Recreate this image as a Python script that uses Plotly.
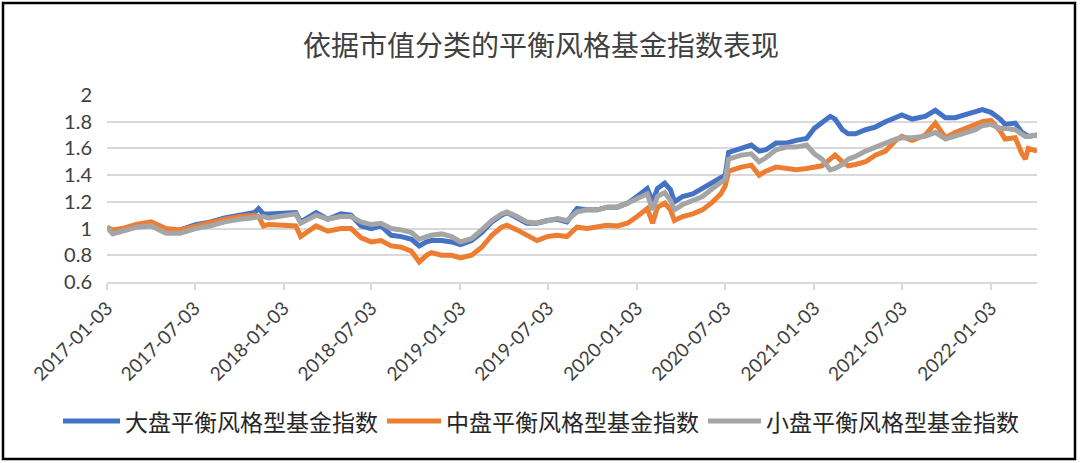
import plotly.graph_objects as go

dates = [
    "2017-01-03", "2017-01-15", "2017-02-03", "2017-03-04", "2017-04-04", "2017-05-05", "2017-06-03",
    "2017-07-05", "2017-08-05", "2017-09-03", "2017-10-04", "2017-11-04", "2017-11-12", "2017-11-22",
    "2017-12-03",
    "2018-01-03", "2018-01-28", "2018-02-07", "2018-03-11", "2018-04-04", "2018-05-01", "2018-05-22",
    "2018-06-12", "2018-07-03", "2018-07-23", "2018-08-13", "2018-09-03", "2018-09-24", "2018-10-10",
    "2018-10-25", "2018-11-04", "2018-11-25", "2018-12-16",
    "2019-01-03", "2019-01-26", "2019-02-16", "2019-03-09", "2019-03-29", "2019-04-09", "2019-04-30",
    "2019-05-20", "2019-06-10", "2019-07-01", "2019-07-22", "2019-08-11", "2019-09-01", "2019-09-22",
    "2019-10-13", "2019-11-02", "2019-11-23", "2019-12-14",
    "2020-01-03", "2020-01-24", "2020-02-04", "2020-02-14", "2020-02-29", "2020-03-12", "2020-03-20",
    "2020-04-06", "2020-04-27", "2020-05-17", "2020-06-07", "2020-06-24", "2020-07-03", "2020-07-10",
    "2020-08-05", "2020-08-26", "2020-09-11", "2020-09-25", "2020-10-16", "2020-11-06", "2020-11-27",
    "2020-12-18",
    "2021-01-03", "2021-01-19", "2021-02-05", "2021-02-15", "2021-03-02", "2021-03-14", "2021-03-29",
    "2021-04-19", "2021-05-09", "2021-05-30", "2021-06-20", "2021-07-03", "2021-07-24", "2021-08-20",
    "2021-09-10", "2021-10-01", "2021-10-21", "2021-11-11", "2021-12-02", "2021-12-16",
    "2022-01-03", "2022-01-22", "2022-02-01", "2022-02-22", "2022-03-08", "2022-03-15", "2022-03-21",
    "2022-04-08",
]

large_cap = [
    1.01, 0.98, 0.99, 1.02, 1.04, 0.98, 0.99, 1.03, 1.05, 1.08, 1.10, 1.12, 1.15, 1.11, 1.11,
    1.12, 1.12, 1.05, 1.12, 1.07, 1.11, 1.10, 1.02, 1.00, 1.02, 0.95, 0.94, 0.92, 0.87, 0.90, 0.91, 0.91, 0.90,
    0.88, 0.91, 0.97, 1.05, 1.10, 1.12, 1.08, 1.04, 1.04, 1.06, 1.07, 1.05, 1.15, 1.14, 1.14, 1.16, 1.16, 1.19,
    1.24, 1.30, 1.20, 1.30, 1.34, 1.29, 1.20, 1.24, 1.26, 1.30, 1.34, 1.375, 1.40, 1.57, 1.60, 1.625, 1.58,
    1.59, 1.64, 1.64, 1.66, 1.675,
    1.75, 1.79, 1.84, 1.82, 1.74, 1.71, 1.71, 1.74, 1.76, 1.80, 1.83, 1.85, 1.82, 1.84, 1.885, 1.83, 1.83,
    1.85, 1.87, 1.89,
    1.87, 1.82, 1.78, 1.79, 1.72, 1.70, 1.69, 1.70,
]

mid_cap = [
    1.01, 0.99, 1.00, 1.03, 1.05, 1.00, 0.99, 1.02, 1.04, 1.07, 1.09, 1.10, 1.09, 1.02, 1.03,
    1.02, 1.02, 0.94, 1.02, 0.98, 1.00, 1.00, 0.93, 0.90, 0.91, 0.87, 0.86, 0.83, 0.75, 0.80, 0.82, 0.80, 0.80,
    0.78, 0.80, 0.86, 0.95, 1.01, 1.025, 0.99, 0.95, 0.91, 0.94, 0.95, 0.94, 1.01, 1.00, 1.01, 1.025, 1.02, 1.04,
    1.09, 1.15, 1.04, 1.16, 1.19, 1.14, 1.06, 1.09, 1.11, 1.14, 1.20, 1.26, 1.32, 1.43, 1.46, 1.475, 1.40,
    1.43, 1.46, 1.45, 1.44, 1.45,
    1.46, 1.47, 1.52, 1.55, 1.50, 1.47, 1.48, 1.50, 1.55, 1.58, 1.66, 1.69, 1.66, 1.70, 1.79, 1.68, 1.72,
    1.75, 1.78, 1.80,
    1.81, 1.73, 1.67, 1.68, 1.56, 1.52, 1.60, 1.58,
]

small_cap = [
    1.01, 0.96, 0.98, 1.01, 1.02, 0.965, 0.965, 1.00, 1.02, 1.05, 1.07, 1.08, 1.09, 1.09, 1.08,
    1.10, 1.11, 1.04, 1.10, 1.07, 1.09, 1.09, 1.05, 1.03, 1.04, 1.00, 0.99, 0.97, 0.92, 0.94, 0.95, 0.96, 0.94,
    0.90, 0.925, 0.99, 1.06, 1.11, 1.125, 1.09, 1.05, 1.04, 1.06, 1.075, 1.06, 1.125, 1.14, 1.14, 1.16, 1.16, 1.19,
    1.225, 1.26, 1.14, 1.24, 1.27, 1.21, 1.14, 1.18, 1.21, 1.24, 1.30, 1.34, 1.37, 1.52, 1.55, 1.56, 1.50,
    1.53, 1.59, 1.61, 1.61, 1.625,
    1.56, 1.52, 1.44, 1.45, 1.48, 1.52, 1.54, 1.58, 1.61, 1.64, 1.67, 1.68, 1.68, 1.69, 1.72, 1.67, 1.69,
    1.71, 1.74, 1.77,
    1.78, 1.75, 1.75, 1.74, 1.71, 1.69, 1.69, 1.70,
]

series_names = ["大盘平衡风格型基金指数", "中盘平衡风格型基金指数", "小盘平衡风格型基金指数"]
series_colors = ["#4472C4", "#ED7D31", "#A5A5A5"]

tick_dates = ["2017-01-03", "2017-07-03", "2018-01-03", "2018-07-03", "2019-01-03", "2019-07-03",
              "2020-01-03", "2020-07-03", "2021-01-03", "2021-07-03", "2022-01-03"]
y_ticks = [0.6, 0.8, 1.0, 1.2, 1.4, 1.6, 1.8, 2.0]
y_tick_text = ["0.6", "0.8", "1", "1.2", "1.4", "1.6", "1.8", "2"]

title_text = "依据市值分类的平衡风格基金指数表现"

fig = go.Figure()
for name, vals, col in zip(series_names, [large_cap, mid_cap, small_cap], series_colors):
    fig.add_trace(go.Scatter(x=dates, y=vals, mode="lines", name=name,
                             line=dict(color=col, width=5), showlegend=False))

W, H = 1080, 463
L, R, T, B = 107, 43, 95, 181
pw, ph = W - L - R, H - T - B

def px_to_paper_x(px):
    return (px - L) / pw

def px_to_paper_y(py):
    return (H - B - py) / ph

cjk = "Noto Sans CJK SC"

# manual legend (bottom row), sample line + label per series
legend_sample_px = [(63, 120), (387, 441), (708, 761)]
legend_y_px = 421
shapes = []
annotations = []
for (x0, x1), name, col in zip(legend_sample_px, series_names, series_colors):
    shapes.append(dict(type="line", xref="paper", yref="paper",
                       x0=px_to_paper_x(x0), x1=px_to_paper_x(x1),
                       y0=px_to_paper_y(legend_y_px), y1=px_to_paper_y(legend_y_px),
                       line=dict(color=col, width=5)))
    annotations.append(dict(text=name, xref="paper", yref="paper",
                            x=px_to_paper_x(x1 + 3), y=px_to_paper_y(legend_y_px),
                            xanchor="left", yanchor="middle", showarrow=False,
                            font=dict(family=cjk, size=23, color="#262626")))

shapes.append(dict(type="rect", xref="paper", yref="paper",
                   x0=px_to_paper_x(3), x1=px_to_paper_x(1075),
                   y0=px_to_paper_y(459), y1=px_to_paper_y(3),
                   line=dict(color="black", width=2.5), fillcolor="rgba(0,0,0,0)",
                   layer="above"))

fig.update_layout(
    width=W, height=H,
    margin=dict(l=L, r=R, t=T, b=B, autoexpand=False),
    paper_bgcolor="white", plot_bgcolor="white",
    title=dict(text=title_text, x=541 / W, xref="container", xanchor="center",
               y=1 - 46 / H, yref="container", yanchor="middle",
               font=dict(family=cjk, size=28, color="#404040")),
    showlegend=False,
    xaxis=dict(type="date", range=["2017-01-03", "2022-04-08"],
               tickmode="array", tickvals=tick_dates, ticktext=tick_dates,
               tickangle=-45, tickfont=dict(family="Lato", size=19, color="#404040"),
               showgrid=False, showline=True, linecolor="#D9D9D9", linewidth=1.5,
               ticks="outside", ticklen=6, tickcolor="#D9D9D9", tickwidth=1.5,
               zeroline=False),
    yaxis=dict(range=[0.6, 2.0], tickmode="array", tickvals=y_ticks, ticktext=y_tick_text,
               tickfont=dict(family="Lato", size=20, color="#404040"),
               showgrid=True, gridcolor="#D9D9D9", gridwidth=1.5,
               showline=False, zeroline=False, ticks="", ticklabelstandoff=14),
    shapes=shapes,
    annotations=annotations,
)

fig.write_html("out.html")
